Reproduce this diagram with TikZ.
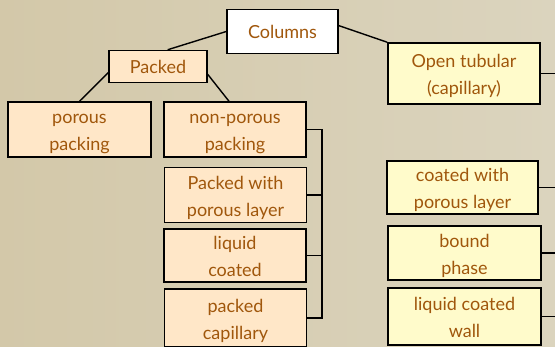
\documentclass[tikz,border=0pt]{standalone}
\usepackage{fontspec}
\setmainfont{Lato}
\usetikzlibrary{calc}
\definecolor{bgA}{HTML}{D3C8A9}
\definecolor{bgB}{HTML}{DBD4BE}
\definecolor{txt}{HTML}{A0570C}
\definecolor{peach}{HTML}{FFE7C8}
\definecolor{ylw}{HTML}{FFFBCB}
\begin{document}
\begin{tikzpicture}[x=1pt,y=-1pt,
  box/.style={draw=black,line width=1.5pt,inner sep=0pt,align=center,
    text=txt,font=\fontsize{18}{27}\selectfont},
  twoline/.style={text height=42pt,text depth=0pt},
  pbox/.style={box,fill=peach},
  ybox/.style={box,fill=ylw},
  link/.style={draw=black,line width=1.4pt}]
\useasboundingbox (0,0) rectangle (555,346);
\shade[left color=bgA,right color=bgB] (0,0) rectangle (555,346);
\node[box,fill=white,minimum width=111pt,minimum height=44pt] (cols) at (282.5,31.5) {Columns};
\node[pbox,minimum width=98pt,minimum height=32pt] (packed) at (158,66.5) {Packed};
\node[pbox,twoline,minimum width=143pt,minimum height=55pt] (porous) at (79.5,129.5) {porous\\packing};
\node[pbox,twoline,minimum width=142pt,minimum height=55pt] (nonpor) at (235,129.5) {non-porous\\packing};
\node[pbox,twoline,minimum width=142pt,minimum height=55pt] (pwpl) at (235.5,195) {Packed with\\porous layer};
\node[pbox,twoline,minimum width=142pt,minimum height=53pt] (liqc) at (235,255.5) {liquid\\coated};
\node[pbox,twoline,minimum width=142pt,minimum height=58pt] (pcap) at (235.5,318) {packed\\capillary};
\node[ybox,twoline,minimum width=152pt,minimum height=61pt] (open) at (464,73.5) {Open tubular\\(capillary)};
\node[ybox,twoline,minimum width=151pt,minimum height=53pt] (cwpl) at (462.5,187.5) {coated with\\porous layer};
\node[ybox,twoline,minimum width=153pt,minimum height=54pt] (bound) at (464.5,253) {bound\\phase};
\node[ybox,twoline,minimum width=153pt,minimum height=57pt] (lcw) at (464.5,316.5) {liquid coated\\wall};
\coordinate (bx) at (322,0);
\coordinate (ex) at (556,0);
\draw[link] (cols.west) -- (packed.60);
\draw[link] (cols.6) -- (open.north west);
\draw[link] (packed.187) -- (porous.north);
\draw[link] (packed.-9) -- (nonpor.102);
\draw[link] (nonpor.east) -- (nonpor.east -| bx) -- (pcap.east -| bx) -- (pcap.east);
\draw[link] (pwpl.east) -- (pwpl.east -| bx);
\draw[link] (liqc.east) -- (liqc.east -| bx);
\draw[link] (open.east) -- (open.east -| ex);
\draw[link] (cwpl.east) -- (cwpl.east -| ex);
\draw[link] (bound.east) -- (bound.east -| ex);
\draw[link] (lcw.east) -- (lcw.east -| ex);
\end{tikzpicture}
\end{document}
